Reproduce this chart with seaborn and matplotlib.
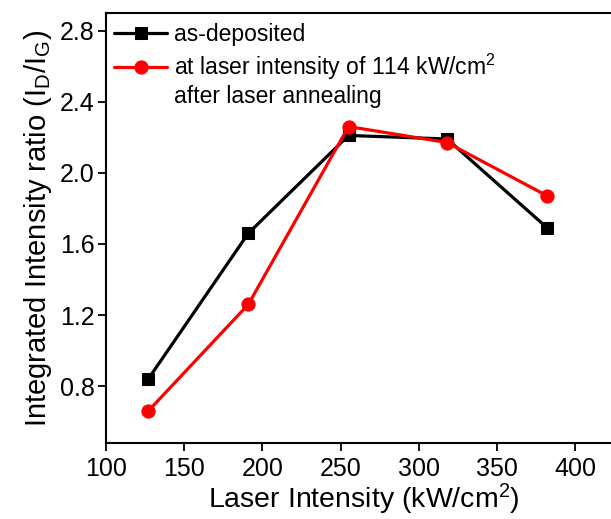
import matplotlib
matplotlib.use("Agg")
import matplotlib.pyplot as plt
import seaborn as sns
import pandas as pd

x_vals = [127, 191, 255, 318, 382]
as_deposited = [0.84, 1.66, 2.21, 2.19, 1.69]
after_annealing = [0.66, 1.26, 2.26, 2.17, 1.87]
label_black = "as-deposited"
label_red = "at laser intensity of 114 kW/cm$^2$"
label_red_line2 = "after laser annealing"
x_ticks = [100, 150, 200, 250, 300, 350, 400]
y_ticks = [0.8, 1.2, 1.6, 2.0, 2.4, 2.8]

sns.set_theme(style="ticks")
plt.rcParams['font.family'] = ['Liberation Sans', 'DejaVu Sans']
plt.rcParams['mathtext.fontset'] = 'custom'
plt.rcParams['mathtext.rm'] = 'Liberation Sans'
plt.rcParams['mathtext.it'] = 'Liberation Sans'
plt.rcParams['text.color'] = 'black'
plt.rcParams['axes.labelcolor'] = 'black'

fig = plt.figure(figsize=(6.11, 5.19), dpi=100)
ax = fig.add_axes([0.1735, 0.1464, 0.845, 0.829])

df1 = pd.DataFrame({"x": x_vals, "y": as_deposited})
df2 = pd.DataFrame({"x": x_vals, "y": after_annealing})
sns.lineplot(data=df1, x="x", y="y", ax=ax, color="black", marker="s",
             markersize=9, linewidth=2.3, markeredgecolor="black", label=label_black)
sns.lineplot(data=df2, x="x", y="y", ax=ax, color="#ff0000", marker="o",
             markersize=9.5, linewidth=2.3, markeredgecolor="#ff0000", label=label_red)

ax.set_xlim(100, 430)
ax.set_ylim(0.48, 2.9)
ax.set_xticks(x_ticks)
ax.set_yticks(y_ticks)
ax.set_yticklabels([f"{v:.1f}" for v in y_ticks])
ax.tick_params(axis="both", direction="out", length=6, width=1.3, labelsize=18,
               colors="black", top=False, right=False, pad=2)
ax.tick_params(axis="x", pad=4)
for s in ["left", "bottom", "top", "right"]:
    ax.spines[s].set_visible(True)
    ax.spines[s].set_linewidth(1.5)
    ax.spines[s].set_color("black")

ax.set_xlabel("Laser Intensity (kW/cm$^2$)", fontsize=20.5, labelpad=1)
ax.set_ylabel("Integrated Intensity ratio (I$_D$/I$_G$)", fontsize=21, labelpad=4)

leg = ax.legend(loc="upper left", bbox_to_anchor=(0.005, 0.99), frameon=False,
                fontsize=16.5, handlelength=2.3, borderaxespad=0.0, borderpad=0.25,
                handletextpad=0.3, labelspacing=0.25)
for t in leg.get_texts():
    t.set_color("black")

fig.canvas.draw()
renderer = fig.canvas.get_renderer()
t2 = leg.get_texts()[1]
bb = t2.get_window_extent(renderer)
inv = fig.transFigure.inverted()
x0, y0 = inv.transform((bb.x0, bb.y0))
fig.text(x0, y0 - 3 / 519, label_red_line2, fontsize=16.5, ha="left", va="top", color="black")

fig.savefig("out.png", dpi=100)
